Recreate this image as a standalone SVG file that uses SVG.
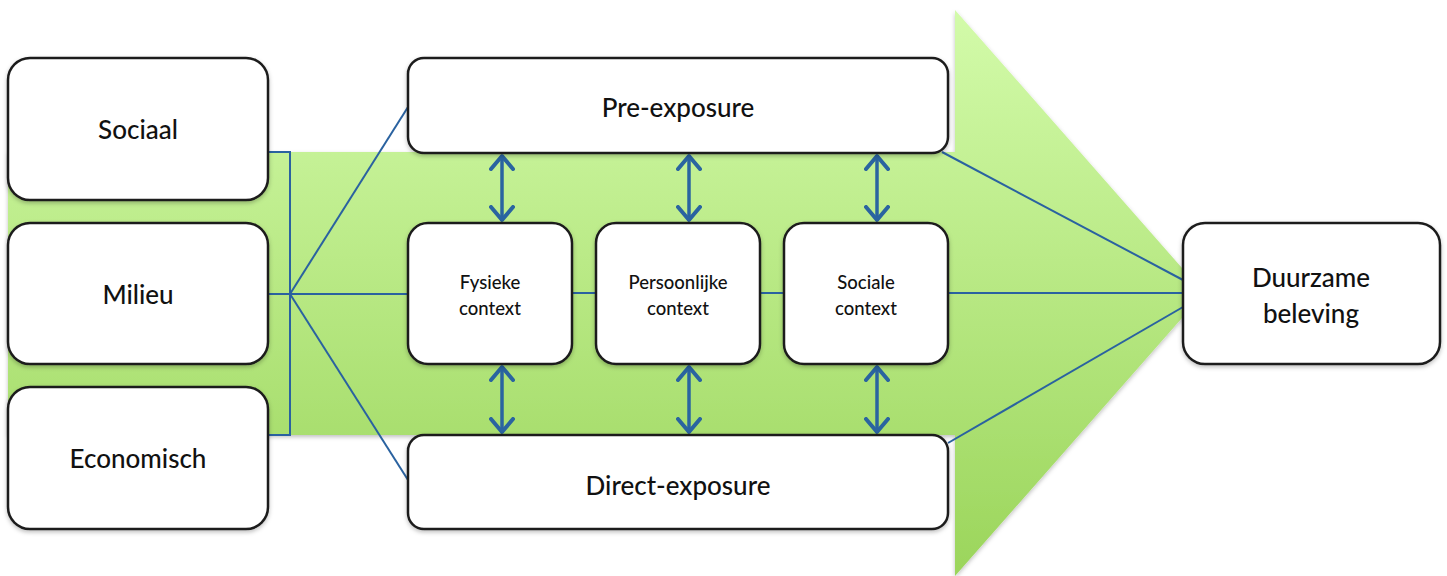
<svg xmlns="http://www.w3.org/2000/svg" width="1447" height="576" viewBox="0 0 1447 576">
<defs>
<linearGradient id="g" gradientUnits="userSpaceOnUse" x1="0" y1="10" x2="0" y2="576">
<stop offset="0" stop-color="#d3fbaa"/>
<stop offset="1" stop-color="#9bd55b"/>
</linearGradient>
<filter id="sh" x="-5%" y="-5%" width="110%" height="115%">
<feDropShadow dx="0" dy="2" stdDeviation="2" flood-color="#000" flood-opacity="0.25"/>
</filter>
<marker id="ah" viewBox="0 0 18 26" refX="16" refY="13" markerWidth="18" markerHeight="26" markerUnits="userSpaceOnUse" orient="auto-start-reverse">
<path d="M2,2 L15,13 L2,24" fill="none" stroke="#2a64a0" stroke-width="4" stroke-linecap="round" stroke-linejoin="round"/>
</marker>
<style>
.box{fill:#fff;stroke:#1e1e1e;stroke-width:2.5;filter:url(#sh)}
.ln{stroke:#2a62a0;stroke-width:2;fill:none}
.dbl{stroke:#2a64a0;stroke-width:3.5;fill:none}
.t{font-family:Lato,"Open Sans","Liberation Sans",sans-serif;fill:#111;text-anchor:middle;font-weight:500}
.big{font-size:26px}
.sm{font-size:18.5px}
</style>
</defs>
<g id="arrow">
<path d="M8,152 H955 V10 L1204,293 L955,576 V435 H8 Z" fill="url(#g)" filter="url(#sh)"/>
</g>
<g id="connectors">
<path class="ln" d="M268,152 H290 V435 H268"/>
<path class="ln" d="M268,294 H408"/>
<path class="ln" d="M290,294 L408,107"/>
<path class="ln" d="M290,294 L408,480"/>
<path class="ln" d="M572,293 H596"/>
<path class="ln" d="M760,293 H784"/>
<path class="ln" d="M948,293 H1183"/>
<path class="ln" d="M942,152 L1183,280"/>
<path class="ln" d="M948,443 L1183,307"/>
<path class="dbl" d="M502,155 V221" marker-start="url(#ah)" marker-end="url(#ah)"/>
<path class="dbl" d="M689,155 V221" marker-start="url(#ah)" marker-end="url(#ah)"/>
<path class="dbl" d="M877,155 V221" marker-start="url(#ah)" marker-end="url(#ah)"/>
<path class="dbl" d="M502,366 V433" marker-start="url(#ah)" marker-end="url(#ah)"/>
<path class="dbl" d="M689,366 V433" marker-start="url(#ah)" marker-end="url(#ah)"/>
<path class="dbl" d="M877,366 V433" marker-start="url(#ah)" marker-end="url(#ah)"/>
</g>
<g id="sociaal"><rect class="box" x="8" y="58" width="260" height="142" rx="22"/><text class="t big" x="138" y="139">Sociaal</text></g>
<g id="milieu"><rect class="box" x="8" y="223" width="260" height="141" rx="22"/><text class="t big" x="138" y="304">Milieu</text></g>
<g id="economisch"><rect class="box" x="8" y="387" width="260" height="142" rx="22"/><text class="t big" x="138" y="468">Economisch</text></g>
<g id="pre-exposure"><rect class="box" x="408" y="58" width="540" height="95" rx="16"/><text class="t big" x="678" y="117">Pre-exposure</text></g>
<g id="direct-exposure"><rect class="box" x="408" y="435" width="540" height="94" rx="16"/><text class="t big" x="678" y="495">Direct-exposure</text></g>
<g id="fysieke"><rect class="box" x="408" y="223" width="164" height="141" rx="20"/><text class="t sm" x="490" y="289">Fysieke</text><text class="t sm" x="490" y="315">context</text></g>
<g id="persoonlijke"><rect class="box" x="596" y="223" width="164" height="141" rx="20"/><text class="t sm" x="678" y="289">Persoonlijke</text><text class="t sm" x="678" y="315">context</text></g>
<g id="sociale"><rect class="box" x="784" y="223" width="164" height="141" rx="20"/><text class="t sm" x="866" y="289">Sociale</text><text class="t sm" x="866" y="315">context</text></g>
<g id="duurzame"><rect class="box" x="1183" y="223" width="257" height="141" rx="22"/><text class="t big" x="1311" y="287">Duurzame</text><text class="t big" x="1311" y="323">beleving</text></g>
</svg>
